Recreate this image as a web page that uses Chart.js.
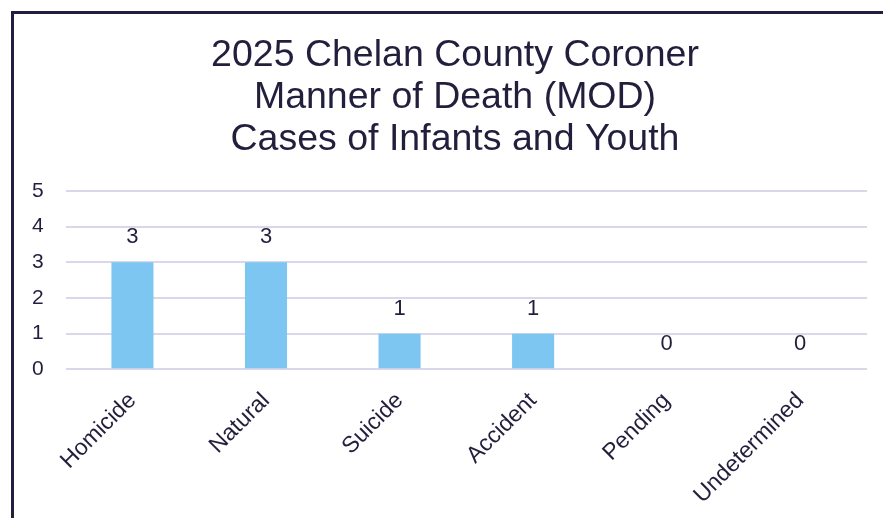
<!DOCTYPE html>
<html>
<head>
<meta charset="utf-8">
<script src="https://cdn.jsdelivr.net/npm/chart.js@4.4.1/dist/chart.umd.min.js"></script>
<style>
    html, body { margin: 0; padding: 0; background: #fff; }
    #wrap { position: relative; width: 883px; height: 518px; overflow: hidden; }
    #frame { position: absolute; left: 11px; top: 11px; width: 900px; height: 600px;
             border-left: 3px solid #221f3d; border-top: 3px solid #221f3d; }
    canvas { position: absolute; left: 0; top: 0; }
</style>
</head>
<body>
<div id="wrap">
    <div id="frame"></div>
    <canvas id="chart" width="883" height="518"></canvas>
</div>
<script>
var categories = ["Homicide", "Natural", "Suicide", "Accident", "Pending", "Undetermined"];
var caseCounts = [3, 3, 1, 1, 0, 0];
var yTicks = [0, 1, 2, 3, 4, 5];
var titleLines = ["2025 Chelan County Coroner", "Manner of Death (MOD)", "Cases of Infants and Youth"];

var textColor = "#221f3d";
var fontFamily = "'Liberation Sans', Arial, sans-serif";

// draw the value above each bar
var valueLabels = {
    id: "valueLabels",
    afterDatasetsDraw: function(chart){
        var ctx = chart.ctx;
        var meta = chart.getDatasetMeta(0);
        ctx.save();
        ctx.font = "22px " + fontFamily;
        ctx.fillStyle = textColor;
        ctx.textAlign = "center";
        ctx.textBaseline = "middle";
        meta.data.forEach(function(bar, i){
            ctx.fillText(String(caseCounts[i]), bar.x, bar.y - 25);
        });
        ctx.restore();
    }
};

// title sits a bit right of the plot centre in the original
var titleShift = {
    id: "titleShift",
    afterLayout: function(chart){
        if (chart.titleBlock) chart.titleBlock.left += 33;
    }
};

var ctx = document.getElementById("chart").getContext("2d");
var chart = new Chart(ctx, {
    type: "bar",
    data: {
        labels: categories,
        datasets: [{
            data: caseCounts,
            backgroundColor: "#7ec6f2",
            barPercentage: 0.5,
            categoryPercentage: 0.63
        }]
    },
    options: {
        responsive: false,
        animation: false,
        layout: {
            padding: { left: 10, right: 16, top: 35, bottom: 7 }
        },
        plugins: {
            legend: { display: false },
            tooltip: { enabled: false },
            title: {
                display: true,
                text: titleLines,
                color: textColor,
                font: { family: fontFamily, size: 37.5, weight: "normal", lineHeight: 1.12 },
                padding: { top: 0, bottom: 30 }
            }
        },
        scales: {
            x: {
                grid: { display: false },
                border: { display: false },
                afterFit: function(axis){
                    axis.height -= 8;
                },
                ticks: {
                    color: textColor,
                    maxRotation: 45,
                    minRotation: 45,
                    padding: 10,
                    font: { family: fontFamily, size: 23 }
                }
            },
            y: {
                min: 0,
                max: 5,
                afterBuildTicks: function(axis){
                    axis.ticks = yTicks.map(function(v){ return { value: v }; });
                },
                grid: { color: "#d9d7ea", lineWidth: 2, drawTicks: false },
                border: { display: false },
                ticks: {
                    color: textColor,
                    padding: 22,
                    font: { family: fontFamily, size: 21 }
                }
            }
        }
    },
    plugins: [valueLabels, titleShift]
});
</script>
</body>
</html>
